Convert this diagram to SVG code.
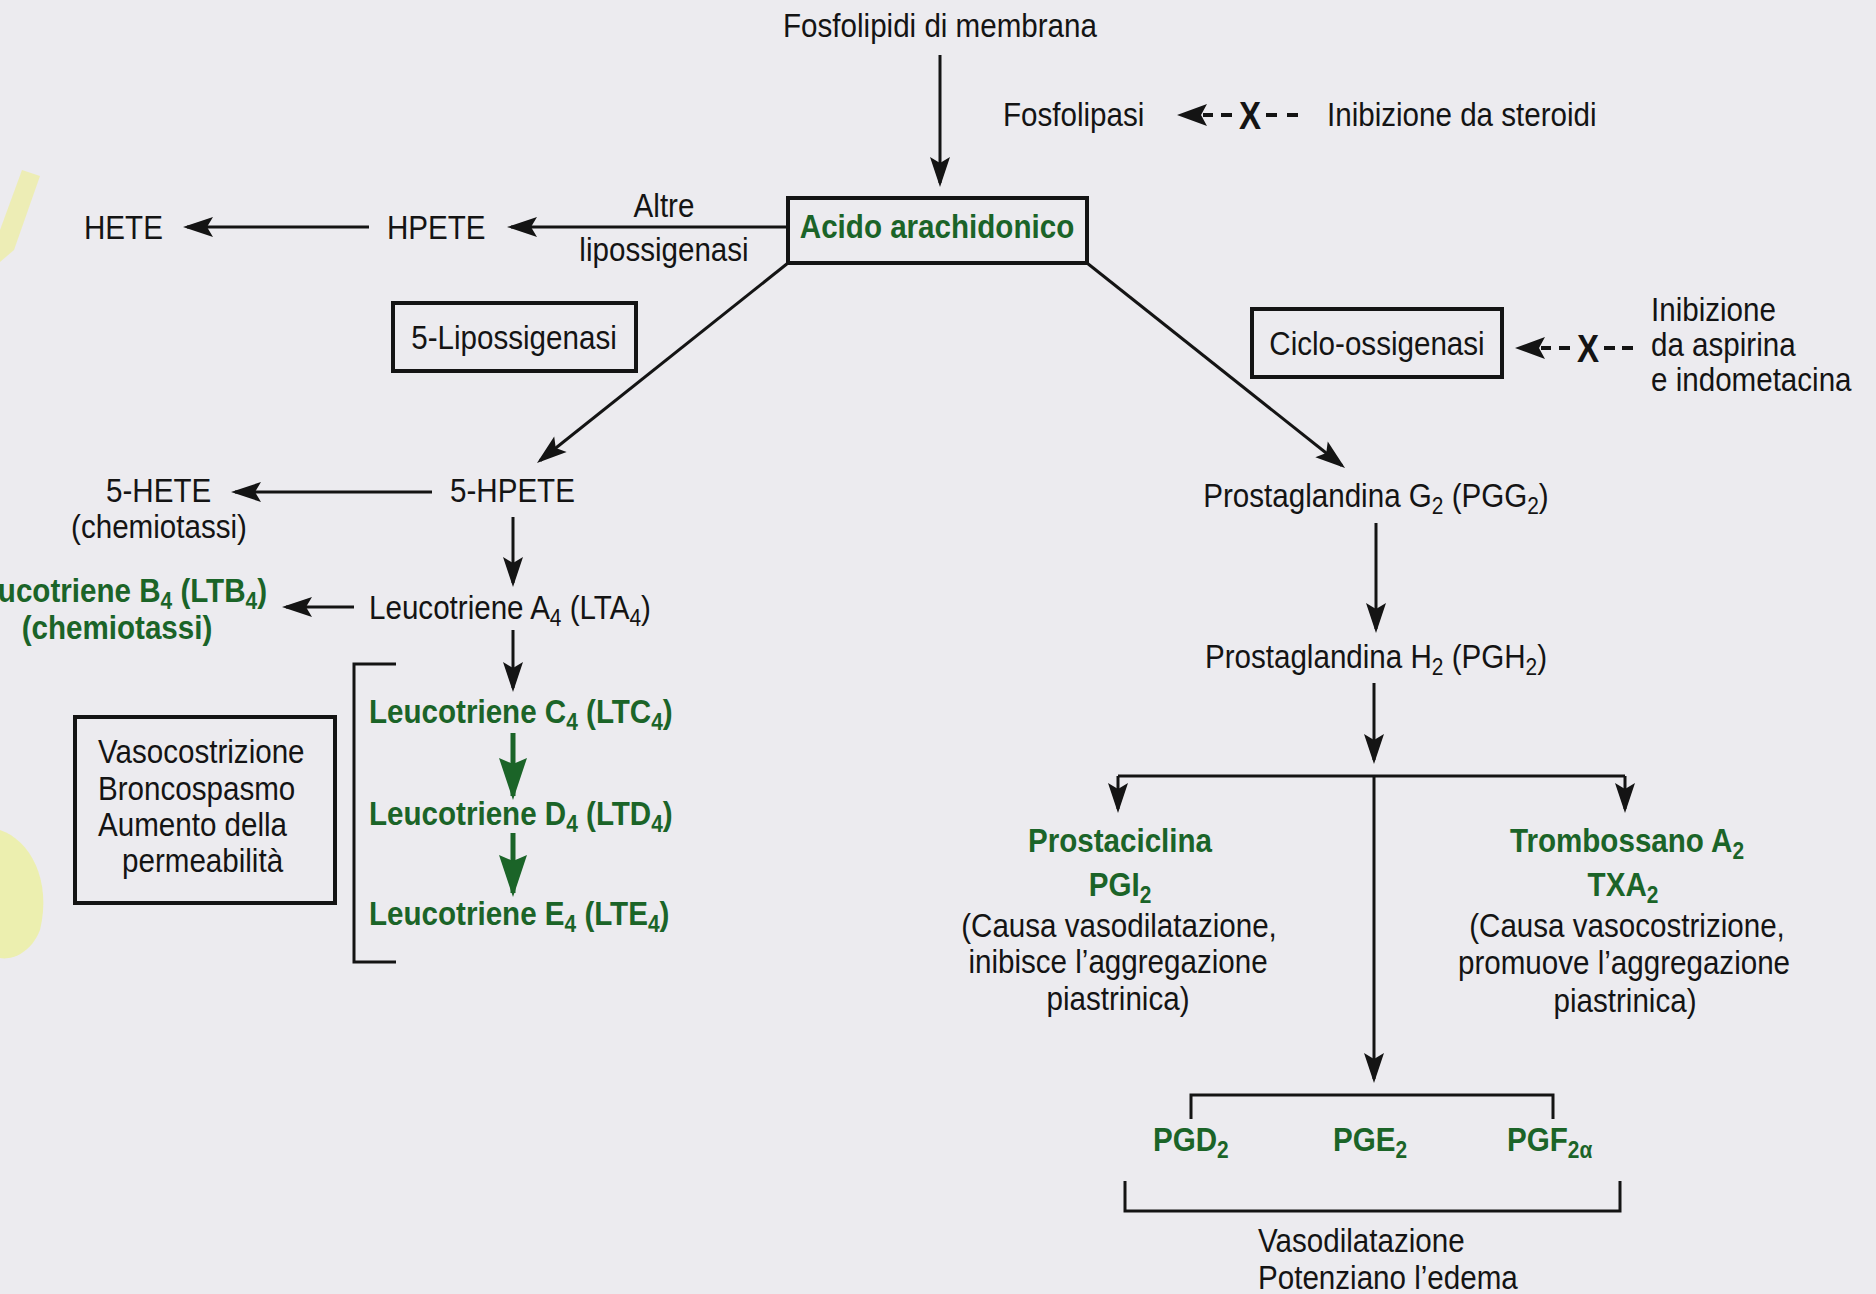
<svg xmlns="http://www.w3.org/2000/svg" width="1876" height="1294" viewBox="0 0 1876 1294">
<style>
  text { font-family: "Liberation Sans", Arial, sans-serif; font-size: 34px; fill: #141414; }
  .g { font-weight: bold; fill: #1b6428; }
  .x { font-weight: bold; font-size: 38px; fill: #141414; text-anchor: middle; }
  .m { text-anchor: middle; }
  .e { text-anchor: end; }
  .sub { font-size: 24px; }
  .ln { stroke: #141414; stroke-width: 3; fill: none; }
  .gl { stroke: #1b6428; stroke-width: 5; fill: none; }
  .box { stroke: #141414; stroke-width: 4; fill: none; }
  .dash { stroke: #141414; stroke-width: 4; fill: none; }
</style>
<defs>
  <marker id="ah" markerUnits="userSpaceOnUse" markerWidth="34" markerHeight="26" viewBox="-34 -13 34 26" refX="-4" refY="0" orient="auto">
    <path d="M0,0 L-30,-10 L-24,0 L-30,10 Z" fill="#141414"/>
  </marker>
  <marker id="gah" markerUnits="userSpaceOnUse" markerWidth="46" markerHeight="32" viewBox="-46 -16 46 32" refX="-4" refY="0" orient="auto">
    <path d="M0,0 L-42,-14 L-36,0 L-42,14 Z" fill="#1b6428"/>
  </marker>
</defs>

<rect x="0" y="0" width="1876" height="1294" fill="#ecebef"/>
<g id="highlights" opacity="0.35">
  <path d="M0,230 L22,170 L40,176 L14,250 L0,262 Z" fill="#f2f24a"/>
  <path d="M0,830 C30,840 52,880 40,930 C30,955 10,960 0,958 Z" fill="#eef53a"/>
</g>

<g id="connectors">
  <line class="ln" x1="940" y1="55" x2="940" y2="183" marker-end="url(#ah)"/>
  <line class="ln" x1="788" y1="227" x2="511" y2="227" marker-end="url(#ah)"/>
  <line class="ln" x1="369" y1="227" x2="187" y2="227" marker-end="url(#ah)"/>
  <line class="ln" x1="788" y1="263" x2="540.1" y2="460.5" marker-end="url(#ah)"/>
  <line class="ln" x1="1087" y1="263" x2="1341.9" y2="465.5" marker-end="url(#ah)"/>
  <line class="ln" x1="432" y1="492" x2="235" y2="492" marker-end="url(#ah)"/>
  <line class="ln" x1="513" y1="517" x2="513" y2="583" marker-end="url(#ah)"/>
  <line class="ln" x1="354" y1="607" x2="286" y2="607" marker-end="url(#ah)"/>
  <line class="ln" x1="513" y1="630" x2="513" y2="688" marker-end="url(#ah)"/>
  <line class="gl" x1="513" y1="733" x2="513" y2="796" marker-end="url(#gah)"/>
  <line class="gl" x1="513" y1="833" x2="513" y2="893" marker-end="url(#gah)"/>
  <polyline class="ln" points="396,664 354,664 354,962 396,962"/>
  <line class="ln" x1="1376" y1="523" x2="1376" y2="629" marker-end="url(#ah)"/>
  <line class="ln" x1="1374" y1="683" x2="1374" y2="760" marker-end="url(#ah)"/>
  <line class="ln" x1="1118" y1="776" x2="1625" y2="776"/>
  <line class="ln" x1="1118" y1="776" x2="1118" y2="809" marker-end="url(#ah)"/>
  <line class="ln" x1="1625" y1="776" x2="1625" y2="809" marker-end="url(#ah)"/>
  <line class="ln" x1="1374" y1="776" x2="1374" y2="1079" marker-end="url(#ah)"/>
  <polyline class="ln" points="1191,1119 1191,1095 1553,1095 1553,1119"/>
  <polyline class="ln" points="1125,1181 1125,1211 1620,1211 1620,1181"/>
  <g id="inhib-steroidi">
    <path d="M1177,115 L1207,104 L1201,115 L1207,126 Z" fill="#141414"/>
    <line class="dash" x1="1203" y1="115" x2="1213" y2="115"/>
    <line class="dash" x1="1221" y1="115" x2="1232" y2="115"/>
    <text class="x" transform="translate(1250 129) scale(.87 1)">X</text>
    <line class="dash" x1="1266" y1="115" x2="1277" y2="115"/>
    <line class="dash" x1="1287" y1="115" x2="1298" y2="115"/>
  </g>
  <g id="inhib-aspirina">
    <path d="M1515,348 L1545,337 L1539,348 L1545,359 Z" fill="#141414"/>
    <line class="dash" x1="1541" y1="348" x2="1551" y2="348"/>
    <line class="dash" x1="1559" y1="348" x2="1570" y2="348"/>
    <text class="x" transform="translate(1588 362) scale(.87 1)">X</text>
    <line class="dash" x1="1604" y1="348" x2="1615" y2="348"/>
    <line class="dash" x1="1622" y1="348" x2="1633" y2="348"/>
  </g>
</g>

<g id="n-fosfolipidi"><text class="m" transform="translate(940 37) scale(.87 1)">Fosfolipidi di membrana</text></g>
<g id="n-fosfolipasi"><text transform="translate(1003 126) scale(.87 1)">Fosfolipasi</text></g>
<g id="n-steroidi"><text transform="translate(1327 126) scale(.87 1)">Inibizione da steroidi</text></g>
<g id="n-acido">
  <rect class="box" x="788" y="198" width="299" height="65"/>
  <text class="g m" transform="translate(937 238) scale(.87 1)">Acido arachidonico</text>
</g>
<g id="n-hete"><text transform="translate(84 239) scale(.87 1)">HETE</text></g>
<g id="n-hpete"><text transform="translate(387 239) scale(.87 1)">HPETE</text></g>
<g id="n-altre">
  <text class="m" transform="translate(664 217) scale(.87 1)">Altre</text>
  <text class="m" transform="translate(664 261) scale(.87 1)">lipossigenasi</text>
</g>
<g id="n-5lipo">
  <rect class="box" x="393" y="303" width="243" height="68"/>
  <text class="m" transform="translate(514 349) scale(.87 1)">5-Lipossigenasi</text>
</g>
<g id="n-ciclo">
  <rect class="box" x="1252" y="309" width="250" height="68"/>
  <text class="m" transform="translate(1377 355) scale(.87 1)">Ciclo-ossigenasi</text>
</g>
<g id="n-aspirina">
  <text transform="translate(1651 321) scale(.87 1)">Inibizione</text>
  <text transform="translate(1651 356) scale(.87 1)">da aspirina</text>
  <text transform="translate(1651 391) scale(.87 1)">e indometacina</text>
</g>
<g id="n-5hete">
  <text transform="translate(106 502) scale(.87 1)">5-HETE</text>
  <text class="m" transform="translate(159 538) scale(.87 1)">(chemiotassi)</text>
</g>
<g id="n-5hpete"><text transform="translate(450 502) scale(.87 1)">5-HPETE</text></g>
<g id="n-lta4"><text transform="translate(369 619) scale(.87 1)">Leucotriene A<tspan class="sub" dy="7">4</tspan><tspan dy="-7"> (LTA</tspan><tspan class="sub" dy="7">4</tspan><tspan dy="-7">)</tspan></text></g>
<g id="n-ltb4">
  <text class="g e" transform="translate(267 602) scale(.87 1)">Leucotriene B<tspan class="sub" dy="7">4</tspan><tspan dy="-7"> (LTB</tspan><tspan class="sub" dy="7">4</tspan><tspan dy="-7">)</tspan></text>
  <text class="g m" transform="translate(117 639) scale(.87 1)">(chemiotassi)</text>
</g>
<g id="n-ltc4"><text class="g" transform="translate(369 723) scale(.87 1)">Leucotriene C<tspan class="sub" dy="7">4</tspan><tspan dy="-7"> (LTC</tspan><tspan class="sub" dy="7">4</tspan><tspan dy="-7">)</tspan></text></g>
<g id="n-ltd4"><text class="g" transform="translate(369 825) scale(.87 1)">Leucotriene D<tspan class="sub" dy="7">4</tspan><tspan dy="-7"> (LTD</tspan><tspan class="sub" dy="7">4</tspan><tspan dy="-7">)</tspan></text></g>
<g id="n-lte4"><text class="g" transform="translate(369 925) scale(.87 1)">Leucotriene E<tspan class="sub" dy="7">4</tspan><tspan dy="-7"> (LTE</tspan><tspan class="sub" dy="7">4</tspan><tspan dy="-7">)</tspan></text></g>
<g id="n-effetti-lt">
  <rect class="box" x="75" y="717" width="260" height="186"/>
  <text transform="translate(98 763) scale(.87 1)">Vasocostrizione</text>
  <text transform="translate(98 800) scale(.87 1)">Broncospasmo</text>
  <text transform="translate(98 836) scale(.87 1)">Aumento della</text>
  <text transform="translate(122 872) scale(.87 1)">permeabilità</text>
</g>
<g id="n-pgg2"><text class="m" transform="translate(1376 507) scale(.87 1)">Prostaglandina G<tspan class="sub" dy="7">2</tspan><tspan dy="-7"> (PGG</tspan><tspan class="sub" dy="7">2</tspan><tspan dy="-7">)</tspan></text></g>
<g id="n-pgh2"><text class="m" transform="translate(1376 668) scale(.87 1)">Prostaglandina H<tspan class="sub" dy="7">2</tspan><tspan dy="-7"> (PGH</tspan><tspan class="sub" dy="7">2</tspan><tspan dy="-7">)</tspan></text></g>
<g id="n-pgi2">
  <text class="g m" transform="translate(1120 852) scale(.87 1)">Prostaciclina</text>
  <text class="g m" transform="translate(1120 896) scale(.87 1)">PGI<tspan class="sub" dy="7">2</tspan></text>
  <text class="m" transform="translate(1119 937) scale(.87 1)">(Causa vasodilatazione,</text>
  <text class="m" transform="translate(1118 973) scale(.87 1)">inibisce l’aggregazione</text>
  <text class="m" transform="translate(1118 1010) scale(.87 1)">piastrinica)</text>
</g>
<g id="n-txa2">
  <text class="g m" transform="translate(1627 852) scale(.87 1)">Trombossano A<tspan class="sub" dy="7">2</tspan></text>
  <text class="g m" transform="translate(1623 896) scale(.87 1)">TXA<tspan class="sub" dy="7">2</tspan></text>
  <text class="m" transform="translate(1627 937) scale(.87 1)">(Causa vasocostrizione,</text>
  <text class="m" transform="translate(1624 974) scale(.87 1)">promuove l’aggregazione</text>
  <text class="m" transform="translate(1625 1012) scale(.87 1)">piastrinica)</text>
</g>
<g id="n-pgd2"><text class="g" transform="translate(1153 1151) scale(.87 1)">PGD<tspan class="sub" dy="7">2</tspan></text></g>
<g id="n-pge2"><text class="g" transform="translate(1333 1151) scale(.87 1)">PGE<tspan class="sub" dy="7">2</tspan></text></g>
<g id="n-pgf2a"><text class="g" transform="translate(1507 1151) scale(.87 1)">PGF<tspan class="sub" dy="7">2α</tspan></text></g>
<g id="n-effetti-pg">
  <text transform="translate(1258 1252) scale(.87 1)">Vasodilatazione</text>
  <text transform="translate(1258 1289) scale(.87 1)">Potenziano l’edema</text>
</g>
</svg>
